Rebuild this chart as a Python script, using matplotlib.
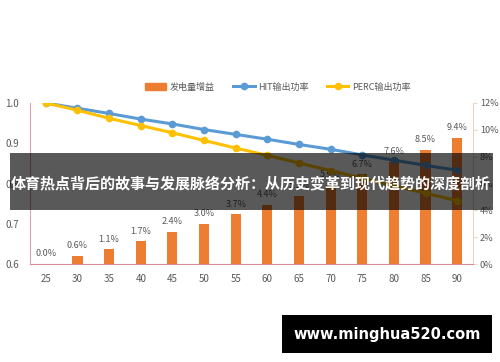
import matplotlib
matplotlib.use("Agg")
import matplotlib.pyplot as plt
from matplotlib.patches import Rectangle
from matplotlib.lines import Line2D
from matplotlib.ticker import FuncFormatter

plt.rcParams['font.family'] = ['Noto Sans CJK SC', 'DejaVu Sans']

categories = ['25', '30', '35', '40', '45', '50', '55', '60', '65', '70', '75', '80', '85', '90']
gain = [0.0, 0.6, 1.1, 1.7, 2.4, 3.0, 3.7, 4.4, 5.1, 5.9, 6.7, 7.6, 8.5, 9.4]
hit = [1.0, 0.987, 0.974, 0.960, 0.948, 0.934, 0.922, 0.910, 0.897, 0.885, 0.871, 0.858, 0.845, 0.833]
perc = [1.0, 0.982, 0.962, 0.944, 0.926, 0.907, 0.888, 0.870, 0.851, 0.832, 0.813, 0.794, 0.776, 0.757]
series_names = ['发电量增益', 'HIT输出功率', 'PERC输出功率']
title_text = '体育热点背后的故事与发展脉络分析：从历史变革到现代趋势的深度剖析'
watermark = 'www.minghua520.com'

W, H = 500, 362
fig = plt.figure(figsize=(W / 100, H / 100), dpi=100)
fig.patch.set_facecolor('white')
ax = fig.add_axes([30 / W, 1 - 264 / H, 443 / W, 161 / H])
ax2 = ax.twinx()
ax.set_zorder(ax2.get_zorder() + 1)
ax.patch.set_visible(False)

x = list(range(len(categories)))
orange = '#ED7D31'
blue = '#5B9BD5'
yellow = '#FFC000'
gray = '#595959'

bars = ax2.bar(x, gain, width=0.32, color=orange)
for xi, v in zip(x, gain):
    ax2.annotate(f'{v:.1f}%', (xi, v), xytext=(0, 4), textcoords='offset points',
                 ha='center', va='bottom', fontsize=6.5, color=gray)
ax2.set_ylim(0, 12)
ax2.set_yticks([0, 2, 4, 6, 8, 10, 12])
ax2.yaxis.set_major_formatter(FuncFormatter(lambda v, p: f'{v:.0f}%'))

ax.plot(x, hit, color=blue, lw=2.2, marker='o', ms=4.5)
ax.plot(x, perc, color=yellow, lw=2.2, marker='o', ms=4.5)
ax.set_ylim(0.6, 1.0)
ax.set_yticks([0.6, 0.7, 0.8, 0.9, 1.0])
ax.yaxis.set_major_formatter(FuncFormatter(lambda v, p: f'{v:.1f}'))
ax.set_xlim(-0.5, len(categories) - 0.5)
ax.set_xticks(x)
ax.set_xticklabels(categories)

for a in (ax, ax2):
    for s in a.spines.values():
        s.set_visible(False)
ax.spines['left'].set_visible(True)
ax.spines['left'].set_color('#D8A8B0')
ax.spines['bottom'].set_visible(True)
ax.spines['bottom'].set_color('#D88A98')
ax2.spines['right'].set_visible(True)
ax2.spines['right'].set_color('#EAD7C3')

ax.tick_params(axis='y', length=0, pad=8, labelsize=7, labelcolor=gray)
ax.tick_params(axis='x', length=0, pad=7, labelsize=7, labelcolor=gray)
ax2.tick_params(axis='y', length=3, color='#EAD7C3', pad=2, labelsize=6.6, labelcolor=gray)

handles = [Rectangle((0, 0), 1, 1, color=orange),
           Line2D([], [], color=blue, lw=2.2, marker='o', ms=4.5),
           Line2D([], [], color=yellow, lw=2.2, marker='o', ms=4.5)]
fig.legend(handles, series_names, loc='center', bbox_to_anchor=(0.555, 1 - 87 / H), ncol=3,
           frameon=False, fontsize=6.5, labelcolor=gray, handlelength=2.4,
           columnspacing=2.0, handletextpad=0.4)

# overlay banner
fig.add_artist(Rectangle((10 / W, 1 - 210 / H), 483 / W, 57 / H, transform=fig.transFigure,
                         facecolor='black', alpha=0.65, edgecolor='none', zorder=10))
fig.text(251 / W, 1 - 183 / H, title_text, ha='center', va='center', color='white',
         fontsize=10.8, fontweight='bold', zorder=11)

# watermark box
fig.add_artist(Rectangle((282 / W, 1 - 353 / H), 210 / W, 38 / H, transform=fig.transFigure,
                         facecolor='black', edgecolor='none', zorder=10))
fig.text(387 / W, 1 - 334 / H, watermark, ha='center', va='center', color='white',
         fontsize=10.5, fontweight='bold', family=['DejaVu Sans'], zorder=11)

fig.savefig('out.png', dpi=100)
